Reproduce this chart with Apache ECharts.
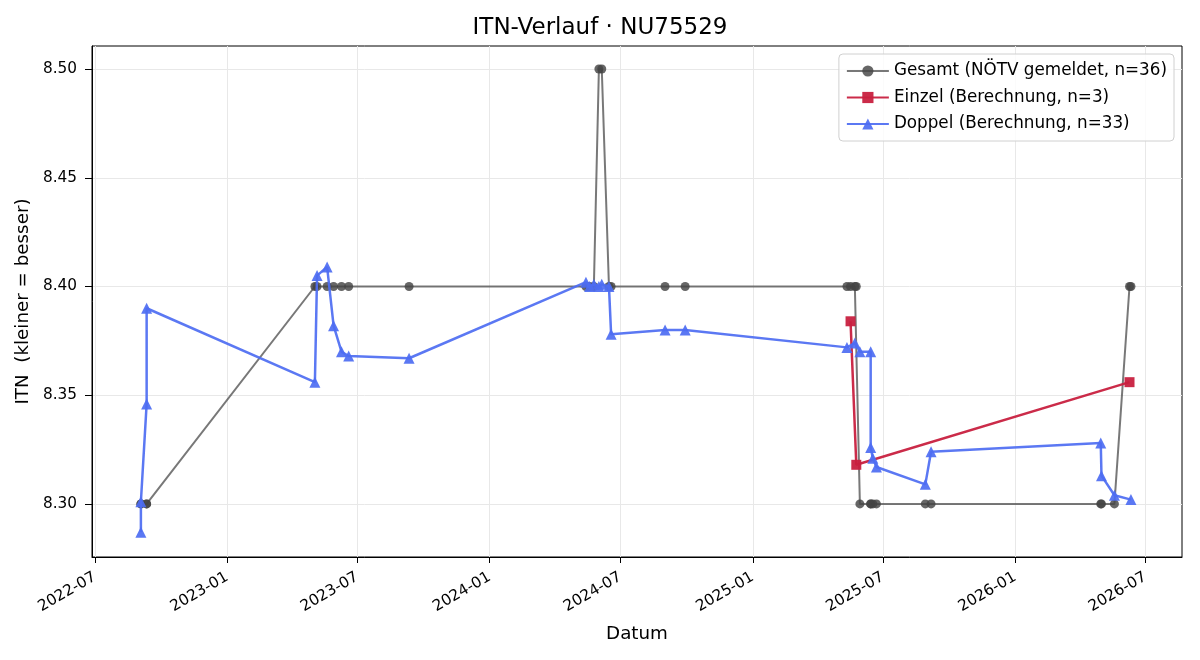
<!DOCTYPE html>
<html>
<head>
<meta charset="utf-8">
<title>ITN-Verlauf</title>
<script src="https://cdn.jsdelivr.net/npm/echarts@6/dist/echarts.min.js"></script>
<style>
  html, body { margin: 0; padding: 0; background: #fff; }
  #chart { width: 1200px; height: 660px; }
</style>
</head>
<body>
<div id="chart"></div>
<script>
// Gesamt (NÖTV gemeldet) – ein Wert pro Spieltag
const gesamtDates = [
  '2022-09-03', '2022-09-03', '2022-09-11', '2022-09-11',
  '2023-05-03', '2023-05-06', '2023-05-20', '2023-05-29', '2023-06-09', '2023-06-19', '2023-09-11',
  '2024-05-14', '2024-05-19', '2024-05-25', '2024-06-01', '2024-06-05', '2024-06-15', '2024-06-18',
  '2024-09-01', '2024-09-29',
  '2025-05-12', '2025-05-17', '2025-05-23', '2025-05-25', '2025-05-30', '2025-06-14', '2025-06-14',
  '2025-06-17', '2025-06-22', '2025-08-29', '2025-09-06',
  '2026-04-30', '2026-05-01', '2026-05-19', '2026-06-09', '2026-06-11'
]
const gesamtValues = [
  8.30, 8.30, 8.30, 8.30,
  8.40, 8.40, 8.40, 8.40, 8.40, 8.40, 8.40,
  8.40, 8.40, 8.40, 8.50, 8.50, 8.40, 8.40,
  8.40, 8.40,
  8.40, 8.40, 8.40, 8.40, 8.30, 8.30, 8.30,
  8.30, 8.30, 8.30, 8.30,
  8.30, 8.30, 8.30, 8.40, 8.40
]

// Einzel (Berechnung)
const einzelDates = ['2025-05-17', '2025-05-25', '2026-06-09']
const einzelValues = [8.384, 8.318, 8.356]

// Doppel (Berechnung)
const doppelDates = [
  '2022-09-03', '2022-09-03', '2022-09-11', '2022-09-11',
  '2023-05-03', '2023-05-06', '2023-05-20', '2023-05-29', '2023-06-09', '2023-06-19', '2023-09-11',
  '2024-05-14', '2024-05-19', '2024-05-25', '2024-06-01', '2024-06-05', '2024-06-15', '2024-06-18',
  '2024-09-01', '2024-09-29',
  '2025-05-12', '2025-05-23', '2025-05-30', '2025-06-14', '2025-06-14', '2025-06-17', '2025-06-22',
  '2025-08-29', '2025-09-06',
  '2026-04-30', '2026-05-01', '2026-05-19', '2026-06-11'
]
const doppelValues = [
  8.287, 8.301, 8.346, 8.390,
  8.356, 8.405, 8.409, 8.382, 8.370, 8.368, 8.367,
  8.402, 8.400, 8.401, 8.400, 8.401, 8.400, 8.378,
  8.380, 8.380,
  8.372, 8.374, 8.370, 8.370, 8.326, 8.321, 8.317,
  8.309, 8.324,
  8.328, 8.313, 8.304, 8.302
]

// Achsen-Ticks (halbjährlich)
const xTickLabels = ['2022-07', '2023-01', '2023-07', '2024-01', '2024-07', '2025-01', '2025-07', '2026-01', '2026-07']
const yTickValues = [8.30, 8.35, 8.40, 8.45, 8.50]

// Datum -> Zeitstempel (UTC), damit die Zeitachse als Wertachse läuft
const ts = (s) => {
  const [y, m, d] = s.split('-').map(Number)
  return Date.UTC(y, m - 1, d || 1)
}
const pair = (dates, values) => dates.map((d, i) => [ts(d), values[i]])

const font = 'DejaVu Sans'
const chart = echarts.init(document.getElementById('chart'), null, { renderer: 'canvas' })

const option = {
  animation: false,
  backgroundColor: '#fff',
  textStyle: { fontFamily: font },
  title: {
    text: 'ITN-Verlauf · NU75529',
    left: 'center',
    top: 12,
    textStyle: { fontFamily: font, fontSize: 23, fontWeight: 'normal', color: '#000' }
  },
  legend: {
    orient: 'vertical',
    right: 26,
    top: 54,
    padding: [8, 7, 8, 7],
    itemGap: 8.5,
    itemWidth: 42,
    itemHeight: 14,
    borderColor: '#d0d0d0',
    borderWidth: 1,
    borderRadius: 4,
    backgroundColor: 'rgba(255,255,255,0.8)',
    textStyle: { fontFamily: font, fontSize: 16.8, lineHeight: 18, color: '#000' },
    data: ['Gesamt (NÖTV gemeldet, n=36)', 'Einzel (Berechnung, n=3)', 'Doppel (Berechnung, n=33)']
  },
  grid: {
    left: 92,
    right: 18,
    top: 46,
    bottom: 103,
    show: true,
    borderColor: '#000',
    borderWidth: 1
  },
  xAxis: {
    type: 'value',
    min: ts('2022-06-27'),
    max: ts('2026-08-21'),
    name: 'Datum',
    nameLocation: 'middle',
    nameGap: 68,
    nameTextStyle: { fontFamily: font, fontSize: 18.3, color: '#000' },
    axisLine: { show: true, lineStyle: { color: '#000', width: 1 } },
    axisTick: { show: true, length: 6, lineStyle: { color: '#000' }, customValues: xTickLabels.map(ts) },
    axisLabel: {
      customValues: xTickLabels.map(ts),
      rotate: 30,
      margin: 19,
      fontFamily: font,
      fontSize: 15.3,
      color: '#000',
      formatter: (val) => {
        const d = new Date(val)
        return d.getUTCFullYear() + '-' + String(d.getUTCMonth() + 1).padStart(2, '0')
      }
    },
    splitLine: { show: true, lineStyle: { color: '#e8e8e8', width: 1 } }
  },
  yAxis: {
    type: 'value',
    min: 8.2756,
    max: 8.5106,
    name: 'ITN  (kleiner = besser)',
    nameLocation: 'middle',
    nameGap: 54,
    nameTextStyle: { fontFamily: font, fontSize: 18.3, color: '#000' },
    axisLine: { show: true, lineStyle: { color: '#000', width: 1 } },
    axisTick: { show: true, length: 7, lineStyle: { color: '#000' }, customValues: yTickValues },
    axisLabel: {
      customValues: yTickValues,
      margin: 15,
      fontFamily: font,
      fontSize: 15.3,
      color: '#000',
      formatter: (v) => v.toFixed(2)
    },
    splitLine: { show: true, lineStyle: { color: '#e8e8e8', width: 1 } }
  },
  series: [
    {
      name: 'Gesamt (NÖTV gemeldet, n=36)',
      type: 'line',
      data: pair(gesamtDates, gesamtValues),
      symbol: 'circle',
      symbolSize: 9,
      showAllSymbol: true,
      lineStyle: { color: '#444', width: 2, opacity: 0.72 },
      itemStyle: { color: '#444', opacity: 0.82 },
      z: 2
    },
    {
      name: 'Einzel (Berechnung, n=3)',
      type: 'line',
      data: pair(einzelDates, einzelValues),
      symbol: 'rect',
      symbolSize: 10,
      showAllSymbol: true,
      lineStyle: { color: '#c8203f', width: 2.5, opacity: 0.95 },
      itemStyle: { color: '#c8203f', opacity: 0.95 },
      z: 3
    },
    {
      name: 'Doppel (Berechnung, n=33)',
      type: 'line',
      data: pair(doppelDates, doppelValues),
      symbol: 'triangle',
      symbolSize: 11,
      showAllSymbol: true,
      lineStyle: { color: '#4d6df2', width: 2.5, opacity: 0.92 },
      itemStyle: { color: '#4d6df2', opacity: 0.92 },
      z: 4
    }
  ]
}

chart.setOption(option)
</script>
</body>
</html>
